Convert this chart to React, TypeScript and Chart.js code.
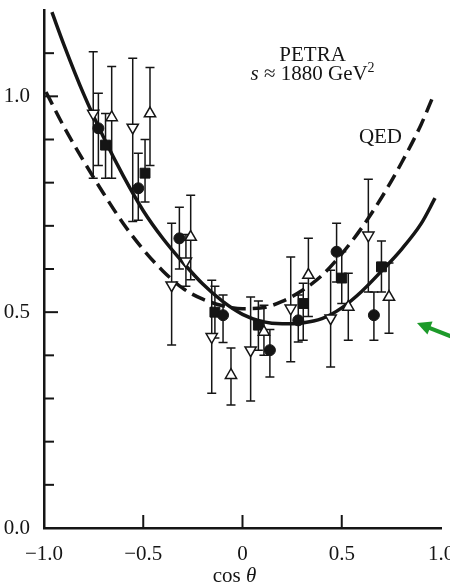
import React, { useEffect, useRef } from "react";
import { Chart, registerables } from "chart.js";

Chart.register(...registerables);

// Fitted curve (solid) and QED prediction (dashed)
const solidX = [-0.96, -0.9, -0.8, -0.7, -0.6, -0.5, -0.4, -0.3, -0.2, -0.1, 0.0, 0.1, 0.2, 0.3, 0.4, 0.5, 0.6, 0.7, 0.8, 0.9, 0.97];
const solidY = [1.195, 1.12, 1.005, 0.905, 0.815, 0.735, 0.67, 0.615, 0.565, 0.525, 0.495, 0.478, 0.473, 0.475, 0.485, 0.51, 0.548, 0.595, 0.645, 0.705, 0.764];
const qedX = [-0.99, -0.9, -0.8, -0.7, -0.6, -0.5, -0.4, -0.3, -0.2, -0.1, 0.0, 0.1, 0.2, 0.3, 0.4, 0.5, 0.6, 0.7, 0.8, 0.9, 0.96];
const qedY = [1.01, 0.93, 0.85, 0.775, 0.705, 0.645, 0.595, 0.555, 0.53, 0.515, 0.508, 0.51, 0.525, 0.55, 0.585, 0.635, 0.695, 0.765, 0.845, 0.935, 1.0];

// Data sets (open down-triangles)
const downX = [-0.752, -0.553, -0.357, -0.285, -0.155, 0.041, 0.243, 0.444, 0.634];
const downY = [0.96, 0.928, 0.5625, 0.618, 0.443, 0.412, 0.509, 0.486, 0.678];
const downLo = [0.81, 0.71, 0.424, 0.56, 0.312, 0.294, 0.385, 0.373, 0.547];
const downHi = [1.103, 1.088, 0.706, 0.68, 0.574, 0.535, 0.628, 0.597, 0.808];

// filled circles
const circX = [-0.726, -0.525, -0.318, -0.098, 0.138, 0.281, 0.474, 0.662];
const circY = [0.926, 0.787, 0.671, 0.493, 0.412, 0.481, 0.64, 0.493];
const circLo = [0.84, 0.713, 0.6, 0.43, 0.35, 0.431, 0.57, 0.435];
const circHi = [1.007, 0.868, 0.743, 0.54, 0.46, 0.54, 0.706, 0.547];

// filled squares
const sqX = [-0.69, -0.491, -0.139, 0.08, 0.306, 0.5, 0.7];
const sqY = [0.887, 0.822, 0.5, 0.47, 0.52, 0.579, 0.605];
const sqLo = [0.81, 0.755, 0.44, 0.412, 0.435, 0.52, 0.547];
const sqHi = [0.96, 0.9, 0.56, 0.526, 0.567, 0.64, 0.665];

// open up-triangles
const upX = [-0.659, -0.466, -0.261, -0.058, 0.108, 0.332, 0.533, 0.738];
const upY = [0.951, 0.96, 0.674, 0.354, 0.454, 0.586, 0.512, 0.535];
const upLo = [0.81, 0.84, 0.575, 0.285, 0.4, 0.49, 0.435, 0.451];
const upHi = [1.069, 1.067, 0.771, 0.417, 0.516, 0.671, 0.59, 0.614];

// Axes
const xTickValues = [-1, -0.5, 0, 0.5, 1];
const xTickLabels = ["\u22121.0", "\u22120.5", "0", "0.5", "1.0"];
const xInnerTicks = [-0.5, 0, 0.5];
const yTickValues = [0, 0.5, 1.0];
const yTickLabels = ["0.0", "0.5", "1.0"];
const yInnerTicks = [0.1, 0.2, 0.3, 0.4, 0.5, 0.6, 0.7, 0.8, 0.9, 1.0, 1.1];
const yMajorTicks = [0.5, 1.0];

const SERIF = "'Liberation Serif', 'DejaVu Serif', serif";
const INK = "#151515";

const pts = (xs: number[], ys: number[]) => xs.map((x, i) => ({ x, y: ys[i] }));

const errorBars = {
  id: "errorBars",
  beforeDatasetsDraw(chart: any) {
    const { ctx, scales } = chart;
    const xs = scales.x;
    const ys = scales.y;
    ctx.save();
    ctx.strokeStyle = INK;
    ctx.lineWidth = 1.5;
    chart.data.datasets.forEach((ds: any) => {
      if (!ds.errLo) return;
      ds.data.forEach((p: any, i: number) => {
        const px = xs.getPixelForValue(p.x);
        const yl = ys.getPixelForValue(ds.errLo[i]);
        const yh = ys.getPixelForValue(ds.errHi[i]);
        ctx.beginPath();
        ctx.moveTo(px, yl);
        ctx.lineTo(px, yh);
        ctx.moveTo(px - 4.5, yl);
        ctx.lineTo(px + 4.5, yl);
        ctx.moveTo(px - 4.5, yh);
        ctx.lineTo(px + 4.5, yh);
        ctx.stroke();
      });
    });
    ctx.restore();
  },
};

const decorations = {
  id: "decorations",
  afterDraw(chart: any) {
    const { ctx, scales, chartArea } = chart;
    const xs = scales.x;
    const ys = scales.y;
    ctx.save();
    // inward ticks
    ctx.strokeStyle = INK;
    ctx.lineWidth = 2;
    yInnerTicks.forEach((v) => {
      const py = ys.getPixelForValue(v);
      const len = yMajorTicks.includes(v) ? 14 : 10;
      ctx.beginPath();
      ctx.moveTo(chartArea.left, py);
      ctx.lineTo(chartArea.left + len, py);
      ctx.stroke();
    });
    xInnerTicks.forEach((v) => {
      const px = xs.getPixelForValue(v);
      ctx.beginPath();
      ctx.moveTo(px, chartArea.bottom);
      ctx.lineTo(px, chartArea.bottom - 13);
      ctx.stroke();
    });

    ctx.fillStyle = INK;
    ctx.textBaseline = "alphabetic";
    // PETRA label
    ctx.font = `21px ${SERIF}`;
    ctx.textAlign = "center";
    ctx.fillText("PETRA", xs.getPixelForValue(0.353), ys.getPixelForValue(1.083));
    // s ≈ 1880 GeV²
    const parts = [
      { t: "s", f: `italic 21px ${SERIF}`, dy: 0 },
      { t: " \u2248 1880 GeV", f: `21px ${SERIF}`, dy: 0 },
      { t: "2", f: `14px ${SERIF}`, dy: -8 },
    ];
    let total = 0;
    parts.forEach((p) => {
      ctx.font = p.f;
      total += ctx.measureText(p.t).width;
    });
    let cx = xs.getPixelForValue(0.353) - total / 2;
    const by = ys.getPixelForValue(1.037);
    ctx.textAlign = "left";
    parts.forEach((p) => {
      ctx.font = p.f;
      ctx.fillText(p.t, cx, by + p.dy);
      cx += ctx.measureText(p.t).width;
    });
    // QED
    ctx.font = `21px ${SERIF}`;
    ctx.textAlign = "center";
    ctx.fillText("QED", xs.getPixelForValue(0.695), ys.getPixelForValue(0.891));

    // axis title cos θ
    const t1 = "cos ";
    const t2 = "\u03b8";
    ctx.font = `21px ${SERIF}`;
    const w1 = ctx.measureText(t1).width;
    ctx.font = `italic 21px ${SERIF}`;
    const w2 = ctx.measureText(t2).width;
    const tx = xs.getPixelForValue(-0.04) - (w1 + w2) / 2;
    const ty = chartArea.bottom + 54;
    ctx.textAlign = "left";
    ctx.font = `21px ${SERIF}`;
    ctx.fillText(t1, tx, ty);
    ctx.font = `italic 21px ${SERIF}`;
    ctx.fillText(t2, tx + w1, ty);

    // green arrow annotation
    const ax0 = xs.getPixelForValue(1.05);
    const ay0 = ys.getPixelForValue(0.444);
    const ax1 = xs.getPixelForValue(0.879);
    const ay1 = ys.getPixelForValue(0.475);
    const ang = Math.atan2(ay1 - ay0, ax1 - ax0);
    ctx.strokeStyle = "#1d9a2a";
    ctx.fillStyle = "#1d9a2a";
    ctx.lineWidth = 4;
    const hl = 14;
    ctx.beginPath();
    ctx.moveTo(ax0, ay0);
    ctx.lineTo(ax1 - Math.cos(ang) * hl * 0.8, ay1 - Math.sin(ang) * hl * 0.8);
    ctx.stroke();
    ctx.beginPath();
    ctx.moveTo(ax1, ay1);
    ctx.lineTo(ax1 - hl * Math.cos(ang) + 7 * Math.sin(ang), ay1 - hl * Math.sin(ang) - 7 * Math.cos(ang));
    ctx.lineTo(ax1 - hl * Math.cos(ang) - 7 * Math.sin(ang), ay1 - hl * Math.sin(ang) + 7 * Math.cos(ang));
    ctx.closePath();
    ctx.fill();
    ctx.restore();
  },
};

export default function App() {
  const ref = useRef<HTMLCanvasElement>(null);
  useEffect(() => {
    const canvas = ref.current;
    if (!canvas) return;
    const chart = new Chart(canvas, {
      type: "scatter",
      data: {
        datasets: [
          {
            label: "down",
            data: pts(downX, downY),
            errLo: downLo,
            errHi: downHi,
            pointStyle: "triangle",
            rotation: 180,
            pointRadius: 6.5,
            backgroundColor: "#ffffff",
            borderColor: INK,
            borderWidth: 1.5,
          } as any,
          {
            label: "up",
            data: pts(upX, upY),
            errLo: upLo,
            errHi: upHi,
            pointStyle: "triangle",
            pointRadius: 6.5,
            backgroundColor: "#ffffff",
            borderColor: INK,
            borderWidth: 1.5,
          } as any,
          {
            label: "circle",
            data: pts(circX, circY),
            errLo: circLo,
            errHi: circHi,
            pointStyle: "circle",
            pointRadius: 5.5,
            backgroundColor: INK,
            borderColor: INK,
            borderWidth: 1,
          } as any,
          {
            label: "square",
            data: pts(sqX, sqY),
            errLo: sqLo,
            errHi: sqHi,
            pointStyle: "rect",
            pointRadius: 7,
            backgroundColor: INK,
            borderColor: INK,
            borderWidth: 1,
          } as any,
          {
            label: "fit",
            data: pts(solidX, solidY),
            showLine: true,
            pointRadius: 0,
            borderColor: INK,
            borderWidth: 3.5,
            cubicInterpolationMode: "monotone",
          } as any,
          {
            label: "QED",
            data: pts(qedX, qedY),
            showLine: true,
            pointRadius: 0,
            borderColor: INK,
            borderWidth: 3.5,
            borderDash: [14, 7],
            cubicInterpolationMode: "monotone",
          } as any,
        ],
      },
      options: {
        responsive: false,
        animation: false,
        devicePixelRatio: 1,
        layout: { padding: { top: 10, right: 9, left: 0, bottom: 0 } },
        plugins: { legend: { display: false }, tooltip: { enabled: false } },
        scales: {
          x: {
            type: "linear",
            min: -1,
            max: 1,
            grid: { display: false },
            border: { display: true, color: INK, width: 2.5 },
            afterBuildTicks: (s: any) => {
              s.ticks = xTickValues.map((v) => ({ value: v }));
            },
            afterFit: (s: any) => {
              s.height = 59;
              s.paddingLeft = 0;
              s.paddingRight = 0;
            },
            ticks: {
              autoSkip: false,
              maxRotation: 0,
              padding: 6,
              color: INK,
              font: { family: SERIF, size: 21 },
              callback: (v: any) => {
                const i = xTickValues.indexOf(Number(v));
                return i >= 0 ? xTickLabels[i] : "";
              },
            },
          },
          y: {
            type: "linear",
            min: 0,
            max: 1.2,
            grid: { display: false },
            border: { display: true, color: INK, width: 2.5 },
            afterBuildTicks: (s: any) => {
              s.ticks = yTickValues.map((v) => ({ value: v }));
            },
            afterFit: (s: any) => {
              s.width = 44;
              s.paddingTop = 0;
              s.paddingBottom = 0;
            },
            ticks: {
              autoSkip: false,
              padding: 6,
              color: INK,
              font: { family: SERIF, size: 21 },
              callback: (v: any) => {
                const i = yTickValues.indexOf(Number(v));
                return i >= 0 ? yTickLabels[i] : "";
              },
            },
          },
        },
      },
      plugins: [errorBars, decorations],
    } as any);
    return () => chart.destroy();
  }, []);
  return (
    <div style={{ position: "fixed", left: 0, top: 0, width: 450, height: 587, background: "#ffffff" }}>
      <canvas ref={ref} width={450} height={587} style={{ width: 450, height: 587, display: "block" }} />
    </div>
  );
}
